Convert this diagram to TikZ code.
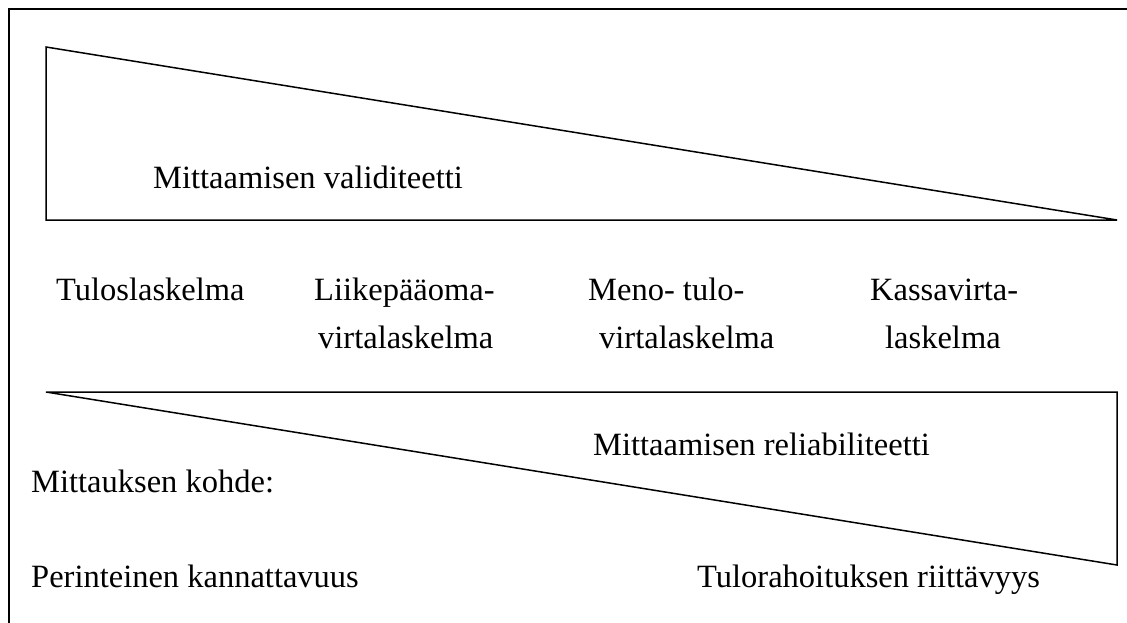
\documentclass[tikz,border=0pt]{standalone}
\usepackage{fontspec}
\setmainfont{Liberation Serif}
\begin{document}
\begin{tikzpicture}[x=1pt,y=-1pt,
  lbl/.style={anchor=base west,inner sep=0pt,font=\fontsize{32.5}{39}\selectfont},
  edge/.style={line width=1.5pt,line join=miter}]
\useasboundingbox (0,0) rectangle (1127,623);
% open frame: left and top edges
\draw[line width=1.8pt] (9,623) -- (9,9) -- (1127,9);
% validity wedge (wide on the left)
\coordinate (v1) at (46,47);
\coordinate (v2) at (46,220);
\coordinate (v3) at (1117,220);
\draw[edge] (v1) -- (v2) -- (v3) -- cycle;
% reliability wedge (wide on the right)
\coordinate (r1) at (46,392);
\coordinate (r2) at (1117,392);
\coordinate (r3) at (1117,565);
\draw[edge] (r1) -- (r2) -- (r3) -- cycle;
% labels
\node[lbl] (val) at (153,188) {Mittaamisen validiteetti};
\node[lbl] (tulos) at (56,300) {Tuloslaskelma};
\node[lbl] (liike1) at (314,300) {Liikepääoma-};
\node[lbl] (liike2) at (318,348) {virtalaskelma};
\node[lbl] (meno1) at (588,300) {Meno- tulo-};
\node[lbl] (meno2) at (599,348) {virtalaskelma};
\node[lbl] (kassa1) at (870,300) {Kassavirta-};
\node[lbl] (kassa2) at (885,348) {laskelma};
\node[lbl] (rel) at (593,455) {Mittaamisen reliabiliteetti};
\node[lbl] (kohde) at (31,492) {Mittauksen kohde:};
\node[lbl] (perint) at (31,587) {Perinteinen kannattavuus};
\node[lbl] (tulor) at (697,587) {Tulorahoituksen riittävyys};
\end{tikzpicture}
\end{document}
